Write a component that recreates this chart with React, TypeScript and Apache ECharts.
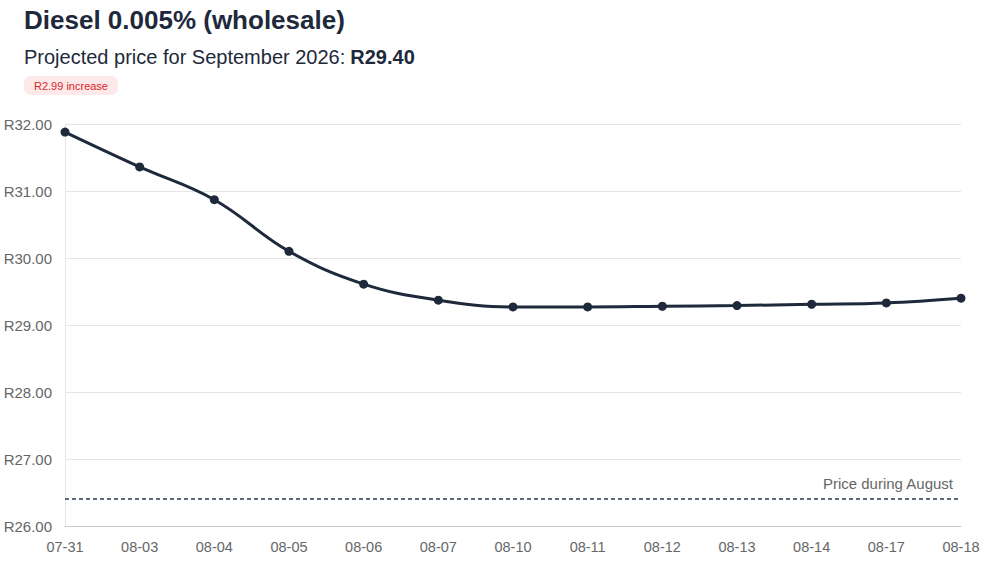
import React, { useEffect, useRef } from "react";
import * as echarts from "echarts";

const categories = ["07-31", "08-03", "08-04", "08-05", "08-06", "08-07", "08-10", "08-11", "08-12", "08-13", "08-14", "08-17", "08-18"];
const prices = [31.88, 31.36, 30.87, 30.1, 29.61, 29.37, 29.27, 29.27, 29.28, 29.29, 29.31, 29.33, 29.4];
const augustPrice = 26.41;
const titleText = "Diesel 0.005% (wholesale)";
const subtitleText = "Projected price for September 2026:";
const projectedText = "R29.40";
const badgeText = "R2.99 increase";
const markLineText = "Price during August";

const FONT = "'Liberation Sans', Arial, Helvetica, sans-serif";

export default function App() {
  const ref = useRef<HTMLDivElement>(null);
  useEffect(() => {
    document.body.style.margin = "0";
    const chart = echarts.init(ref.current!, undefined, { renderer: "svg" });
    chart.setOption({
      animation: false,
      textStyle: { fontFamily: FONT },
      title: [
        {
          text: titleText,
          left: 24,
          top: 7,
          padding: 0,
          textStyle: { fontSize: 26, fontWeight: "bold", color: "#1e293b", fontFamily: FONT },
        },
        {
          text: "{a|" + subtitleText + "} {b|" + projectedText + "}",
          left: 24,
          top: 47,
          padding: 0,
          textStyle: {
            fontFamily: FONT,
            fontWeight: "normal",
            rich: {
              a: { fontSize: 20, fontWeight: "normal", color: "#1e293b", fontFamily: FONT },
              b: { fontSize: 20, fontWeight: "bold", color: "#1e293b", fontFamily: FONT },
            },
          },
        },
      ],
      graphic: [
        {
          type: "rect",
          left: 24,
          top: 76,
          shape: { width: 94, height: 19, r: 7 },
          style: { fill: "#fde8ea" },
        },
        {
          type: "text",
          left: 34,
          top: 80,
          style: { text: badgeText, fontSize: 11, fill: "#dc2626", fontFamily: FONT },
        },
      ],
      grid: { left: 65, right: 22, top: 124, bottom: 36, containLabel: false },
      xAxis: {
        type: "category",
        data: categories,
        boundaryGap: false,
        axisLine: { show: true, lineStyle: { color: "#cccccc" } },
        axisTick: { show: false },
        axisLabel: { color: "#666666", fontSize: 14.5, margin: 13, fontFamily: FONT },
        splitLine: { show: false },
      },
      yAxis: {
        type: "value",
        min: 26,
        max: 32,
        interval: 1,
        axisLine: { show: true, lineStyle: { color: "#e5e5e5" } },
        axisTick: { show: false },
        axisLabel: {
          color: "#666666",
          fontSize: 15,
          margin: 13,
          fontFamily: FONT,
          formatter: (v: number) => "R" + v.toFixed(2),
        },
        splitLine: { show: true, lineStyle: { color: "#e5e5e5" } },
      },
      series: [
        {
          type: "line",
          data: prices,
          smooth: 0.4,
          symbol: "circle",
          symbolSize: 9,
          lineStyle: { color: "#1e293b", width: 3 },
          itemStyle: { color: "#1e293b" },
          markLine: {
            silent: true,
            symbol: "none",
            lineStyle: { type: [4, 3], color: "#5f6b7a", width: 2 },
            label: {
              show: true,
              position: "insideEndTop",
              formatter: markLineText,
              color: "#666666",
              fontSize: 15,
              fontFamily: FONT,
              distance: [8, 8],
            },
            data: [{ yAxis: augustPrice }],
          },
        },
      ],
    });
    return () => chart.dispose();
  }, []);
  return <div ref={ref} style={{ width: 983, height: 562 }} />;
}
